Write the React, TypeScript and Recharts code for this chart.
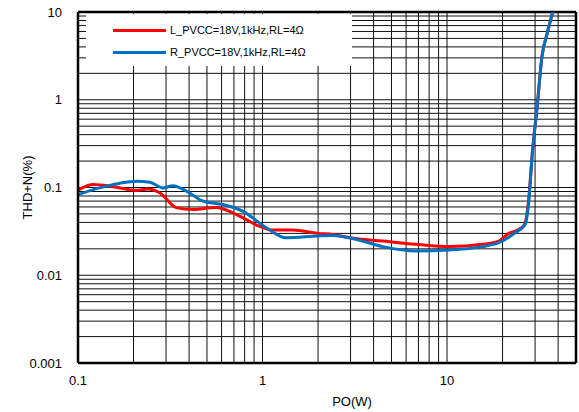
import React from "react";
import {
  LineChart,
  Line,
  XAxis,
  YAxis,
  ReferenceLine,
  Label,
} from "recharts";

// L channel, PVCC=18V, 1kHz, RL=4 ohm
const lPower = [
  0.1, 0.121, 0.155, 0.203, 0.24, 0.277, 0.341, 0.42, 0.56, 0.69, 0.96, 1.14,
  1.46, 1.99, 2.4, 2.96, 4.48, 6.78, 10.3, 15.5, 19.1, 21.6, 24.5, 26.3, 27.7,
  28.9, 30.8, 32.7, 34.9, 37.4,
];
const lThd = [
  0.093, 0.108, 0.102, 0.093, 0.096, 0.087, 0.059, 0.056, 0.059, 0.0515,
  0.0363, 0.0327, 0.0327, 0.03, 0.0292, 0.0268, 0.0245, 0.0225, 0.0212, 0.0225,
  0.0245, 0.03, 0.0333, 0.038, 0.073, 0.227, 0.84, 3.1, 5.7, 10,
];

// R channel
const rPower = [
  0.1, 0.131, 0.208, 0.245, 0.289, 0.327, 0.387, 0.476, 0.61, 0.78, 1.05,
  1.34, 1.99, 2.4, 2.96, 4.48, 6.78, 10.3, 15.5, 19.1, 23.4, 26.5, 27.8, 28.9,
  30.8, 32.7, 34.9, 37.4,
];
const rThd = [
  0.083, 0.099, 0.118, 0.115, 0.099, 0.105, 0.091, 0.07, 0.064, 0.0538,
  0.0348, 0.0268, 0.028, 0.0284, 0.0268, 0.0212, 0.0189, 0.0194, 0.0212,
  0.0235, 0.0305, 0.038, 0.073, 0.227, 0.84, 3.1, 5.7, 10,
];

const xTicks = [0.1, 1, 10];
const yTicks = [0.001, 0.01, 0.1, 1, 10];

const xGrid = [
  0.2, 0.3, 0.4, 0.5, 0.6, 0.7, 0.8, 0.9, 1, 2, 3, 4, 5, 6, 7, 8, 9, 10, 20,
  30, 40,
];
const yGrid = [
  0.002, 0.003, 0.004, 0.005, 0.006, 0.007, 0.008, 0.009, 0.01, 0.02, 0.03,
  0.04, 0.05, 0.06, 0.07, 0.08, 0.09, 0.1, 0.2, 0.3, 0.4, 0.5, 0.6, 0.7, 0.8,
  0.9, 1, 2, 3, 4, 5, 6, 7, 8, 9,
];

const seriesNames = ["L_PVCC=18V,1kHz,RL=4Ω", "R_PVCC=18V,1kHz,RL=4Ω"];
const seriesColors = ["#ff0000", "#0070c0"];

const lData = lPower.map((x, i) => ({ x, y: lThd[i] }));
const rData = rPower.map((x, i) => ({ x, y: rThd[i] }));

const font = "'Liberation Sans', Arial, sans-serif";

function LegendBox() {
  return (
    <div
      style={{
        position: "absolute",
        left: 86,
        top: 14,
        background: "#fff",
        width: 266,
        height: 52,
        fontFamily: font,
        fontSize: 11,
        color: "#000",
      }}
    >
      {seriesNames.map((name, i) => (
        <div
          key={name}
          style={{
            display: "flex",
            alignItems: "center",
            height: 22,
            marginTop: i === 0 ? 5 : 0,
          }}
        >
          <div
            style={{
              marginLeft: 27,
              width: 53,
              height: 3,
              background: seriesColors[i],
            }}
          />
          <span style={{ marginLeft: 4 }}>{name}</span>
        </div>
      ))}
    </div>
  );
}

export default function App() {
  return (
    <div
      style={{
        position: "absolute",
        left: 0,
        top: 0,
        width: 579,
        height: 412,
        background: "#fff",
      }}
    >
      <LineChart
        width={579}
        height={412}
        margin={{ top: 12, right: 3, bottom: 0, left: 0 }}
      >
        <XAxis
          dataKey="x"
          type="number"
          scale="log"
          domain={[0.1, 50]}
          ticks={xTicks}
          allowDataOverflow
          height={49}
          tickSize={0}
          tickMargin={13}
          axisLine={{ stroke: "#000", strokeWidth: 2.5 }}
          tick={{ fill: "#000", fontSize: 13, fontFamily: font }}
        >
          <Label
            value="PO(W)"
            position="insideBottom"
            offset={6}
            dx={25}
            style={{ fill: "#000", fontSize: 13, fontFamily: font }}
          />
        </XAxis>
        <YAxis
          dataKey="y"
          type="number"
          scale="log"
          domain={[0.001, 10]}
          ticks={yTicks}
          allowDataOverflow
          width={78}
          tickSize={0}
          tickMargin={16}
          axisLine={{ stroke: "#000", strokeWidth: 2.5 }}
          tick={{ fill: "#000", fontSize: 13, fontFamily: font }}
        >
          <Label
            value="THD+N(%)"
            position="center"
            angle={-90}
            dx={-12}
            style={{ fill: "#000", fontSize: 13, fontFamily: font }}
          />
        </YAxis>
        {xGrid.map((v) => (
          <ReferenceLine key={"x" + v} x={v} stroke="#111" strokeWidth={1} />
        ))}
        {yGrid.map((v) => (
          <ReferenceLine key={"y" + v} y={v} stroke="#111" strokeWidth={1} />
        ))}
        <ReferenceLine y={10} stroke="#000" strokeWidth={2.5} ifOverflow="visible" />
        <ReferenceLine x={50} stroke="#000" strokeWidth={2.5} ifOverflow="visible" />
        <Line
          data={lData}
          dataKey="y"
          name={seriesNames[0]}
          type="monotone"
          stroke={seriesColors[0]}
          strokeWidth={3}
          dot={false}
          isAnimationActive={false}
        />
        <Line
          data={rData}
          dataKey="y"
          name={seriesNames[1]}
          type="monotone"
          stroke={seriesColors[1]}
          strokeWidth={3}
          dot={false}
          isAnimationActive={false}
        />
      </LineChart>
      <LegendBox />
    </div>
  );
}
